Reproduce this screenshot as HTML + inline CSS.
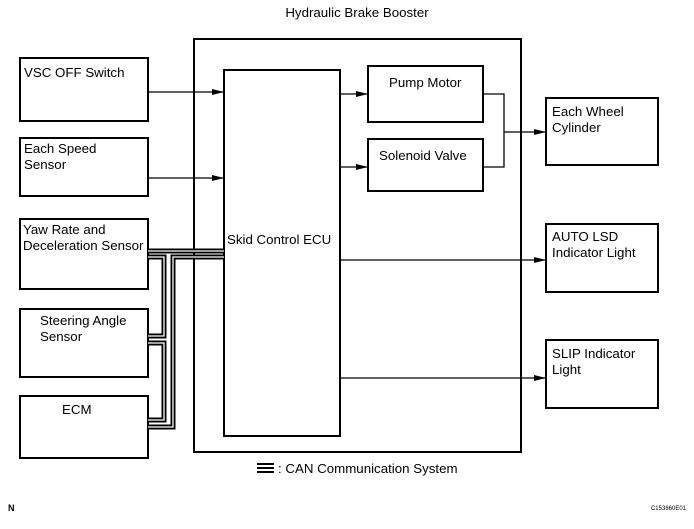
<!DOCTYPE html>
<html><head><style>
body{margin:0;background:#fff;}
svg text{font-family:"Liberation Sans",Arial,sans-serif;fill:#000;}
</style></head><body>
<svg width="694" height="524" viewBox="0 0 694 524" xmlns="http://www.w3.org/2000/svg">
<defs><marker id="a" markerWidth="12" markerHeight="8" refX="12" refY="4" orient="auto" markerUnits="userSpaceOnUse"><path d="M0,1 L12,4 L0,7z" fill="#000"/></marker></defs>
<g fill="none" stroke="#000" stroke-width="2">
<rect x="194" y="39" width="327" height="413"/>
<rect x="224" y="70" width="116" height="366"/>
<rect x="368" y="66" width="115" height="56"/>
<rect x="368" y="139" width="115" height="52"/>
<rect x="546" y="98" width="112" height="67"/>
<rect x="546" y="224" width="112" height="68"/>
<rect x="546" y="340" width="112" height="68"/>
<rect x="20" y="58" width="128" height="63"/>
<rect x="20" y="138" width="128" height="58"/>
<rect x="20" y="219" width="128" height="70"/>
<rect x="20" y="309" width="128" height="68"/>
<rect x="20" y="396" width="128" height="62"/>
</g>
<g stroke="#000" stroke-width="1.3" fill="none">
<line x1="148" y1="92" x2="224" y2="92" marker-end="url(#a)"/>
<line x1="148" y1="178" x2="224" y2="178" marker-end="url(#a)"/>
<line x1="340" y1="94" x2="368" y2="94" marker-end="url(#a)"/>
<line x1="340" y1="167" x2="368" y2="167" marker-end="url(#a)"/>
<polyline points="483,94 504,94 504,167 483,167"/>
<line x1="504" y1="132" x2="546" y2="132" marker-end="url(#a)"/>
<line x1="340" y1="260" x2="546" y2="260" marker-end="url(#a)"/>
<line x1="340" y1="378" x2="546" y2="378" marker-end="url(#a)"/>
</g>
<g fill="none" stroke-linejoin="miter">
<g stroke="#000" stroke-width="5">
<polyline points="148,251 224,251"/>
<polyline points="148,257 164,257 164,336 148,336"/>
<polyline points="148,343 164,343 164,420 148,420"/>
<polyline points="148,427 173,427 173,257 224,257"/>
</g>
<g stroke="#fff" stroke-width="1.3">
<polyline points="148,251 224,251"/>
<polyline points="148,257 164,257 164,336 148,336"/>
<polyline points="148,343 164,343 164,420 148,420"/>
<polyline points="148,427 173,427 173,257 224,257"/>
</g>
</g>
<g font-size="13.3">
<text x="357" y="17" text-anchor="middle">Hydraulic Brake Booster</text>
<text x="24" y="77">VSC OFF Switch</text>
<text x="24" y="153">Each Speed</text>
<text x="24" y="169">Sensor</text>
<text x="23" y="234">Yaw Rate and</text>
<text x="23" y="250">Deceleration Sensor</text>
<text x="40" y="325">Steering Angle</text>
<text x="40" y="341">Sensor</text>
<text x="62" y="414">ECM</text>
<text x="227" y="244">Skid Control ECU</text>
<text x="389" y="87">Pump Motor</text>
<text x="379" y="160">Solenoid Valve</text>
<text x="552" y="116">Each Wheel</text>
<text x="552" y="132">Cylinder</text>
<text x="552" y="241">AUTO LSD</text>
<text x="552" y="257">Indicator Light</text>
<text x="552" y="358">SLIP Indicator</text>
<text x="552" y="374">Light</text>
<text x="278" y="473">: CAN  Communication System</text>
<text x="8" y="511" font-size="9" font-weight="bold">N</text>
<text x="686" y="510" font-size="6" text-anchor="end">C153860E01</text>
</g>
<g stroke="#000" stroke-width="2"><line x1="257" y1="464" x2="274" y2="464"/><line x1="257" y1="468" x2="274" y2="468"/><line x1="257" y1="472" x2="274" y2="472"/></g>
</svg>
</body></html>
